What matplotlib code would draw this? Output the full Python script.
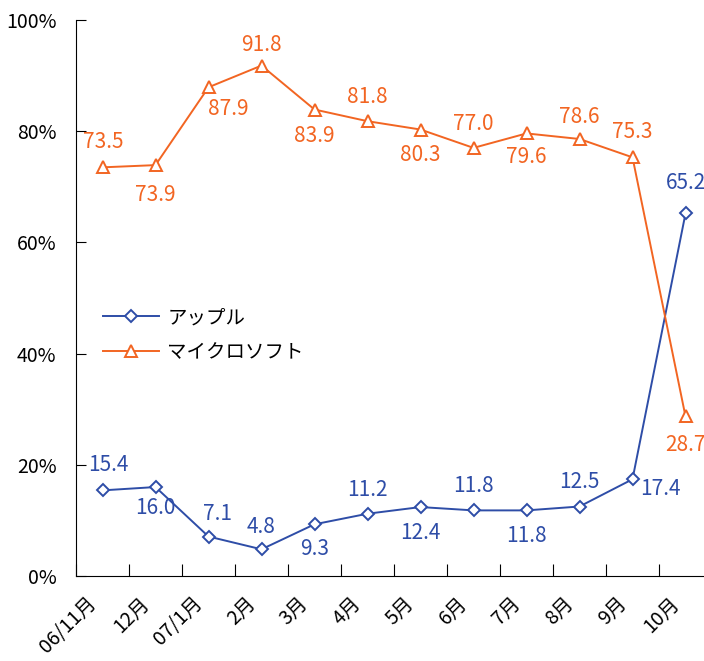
import numpy as np
import matplotlib.pyplot as plt
from matplotlib.ticker import FixedLocator, PercentFormatter
import matplotlib.transforms as mtransforms

plt.rcParams['font.family'] = ['Noto Sans CJK JP', 'DejaVu Sans']

months = ['06/11月', '12月', '07/1月', '2月', '3月', '4月', '5月', '6月', '7月', '8月', '9月', '10月']
apple = [15.4, 16.0, 7.1, 4.8, 9.3, 11.2, 12.4, 11.8, 11.8, 12.5, 17.4, 65.2]
microsoft = [73.5, 73.9, 87.9, 91.8, 83.9, 81.8, 80.3, 77.0, 79.6, 78.6, 75.3, 28.7]

# label offsets in pixels (dx, dy) for each point
apple_off = [(6, 25), (0, -21), (9, 23), (0, 22), (0, -25), (0, 24), (0, -26), (0, 24), (0, -26), (0, 24), (28, -10), (0, 30)]
ms_off = [(1, 25), (0, -30), (20, -22), (0, 21), (0, -26), (0, 24), (0, -25), (0, 24), (0, -24), (0, 22), (0, 25), (0, -29)]

blue = '#2E4DA7'
orange = '#F26522'

fig = plt.figure(figsize=(7.04, 6.61), dpi=100)
ax = fig.add_axes([76/704, 85/661, 636/704, 556/661])

x = np.arange(len(months))
ax.plot(x, apple, color=blue, lw=1.4, marker='D', ms=6.5, mfc='white', mec=blue, mew=1.4, label='アップル')
ax.plot(x, microsoft, color=orange, lw=1.4, marker='^', ms=9, mfc='white', mec=orange, mew=1.4, label='マイクロソフト')

for xi, v, (dx, dy) in zip(x, apple, apple_off):
    ax.annotate(f'{v:.1f}', (xi, v), xytext=(dx, dy), textcoords='offset pixels',
                ha='center', va='center', color=blue, fontsize=15)
for xi, v, (dx, dy) in zip(x, microsoft, ms_off):
    ax.annotate(f'{v:.1f}', (xi, v), xytext=(dx, dy), textcoords='offset pixels',
                ha='center', va='center', color=orange, fontsize=15)

ax.set_xlim(-0.5, len(months) - 0.5)
ax.set_ylim(0, 100)
ax.set_yticks(np.arange(0, 101, 20))
ax.yaxis.set_major_formatter(PercentFormatter(decimals=0))
ax.xaxis.set_major_locator(FixedLocator(np.arange(-0.5, len(months), 1)))
ax.set_xticklabels([])
ax.set_xticks(x, minor=True)
ax.set_xticklabels(months, minor=True, rotation=45, ha='right', rotation_mode='anchor', fontsize=14)
ax.tick_params(axis='x', which='minor', length=0, pad=12)
ax.tick_params(axis='x', which='major', direction='in', length=9)
ax.tick_params(axis='y', direction='in', length=7, labelsize=14, pad=14)
offset = mtransforms.ScaledTranslation(-0.17, 0, fig.dpi_scale_trans)
for lab in ax.get_xticklabels(minor=True):
    lab.set_transform(lab.get_transform() + offset)

for s in ['top', 'right']:
    ax.spines[s].set_visible(False)

ax.legend(loc='upper left', bbox_to_anchor=(0.015, 0.515), frameon=False, fontsize=14,
          handlelength=2.9, labelspacing=0.7, handletextpad=0.4)

fig.savefig('out.png', dpi=100)
